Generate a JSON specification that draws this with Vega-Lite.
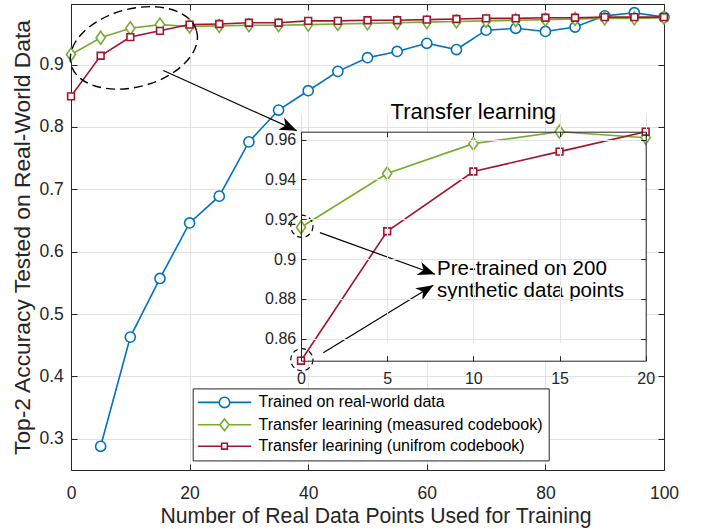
{
  "$schema": "https://vega.github.io/schema/vega-lite/v6.json",
  "width": 593,
  "height": 466,
  "autosize": {"type": "none"},
  "padding": {"left": 71, "top": 4, "right": 43, "bottom": 59},
  "background": "white",
  "config": {
    "font": "Liberation Sans",
    "view": {"stroke": null},
    "axis": {"labelFont": "Liberation Sans", "labelColor": "#262626", "domainColor": "#262626", "tickColor": "#262626", "gridColor": "#e3e3e3", "gridOpacity": 1, "labelFlush": false, "labelOverlap": false, "titleFont": "Liberation Sans", "titleColor": "#262626", "titleFontWeight": "normal", "domainWidth": 1, "tickWidth": 1, "gridWidth": 1},
    "legend": {"labelFont": "Liberation Sans"}
  },
  "datasets": {
    "acc": [
      {"series": "Trained on real-world data", "x": 5, "y": 0.288},
      {"series": "Trained on real-world data", "x": 10, "y": 0.463},
      {"series": "Trained on real-world data", "x": 15, "y": 0.557},
      {"series": "Trained on real-world data", "x": 20, "y": 0.646},
      {"series": "Trained on real-world data", "x": 25, "y": 0.689},
      {"series": "Trained on real-world data", "x": 30, "y": 0.776},
      {"series": "Trained on real-world data", "x": 35, "y": 0.827},
      {"series": "Trained on real-world data", "x": 40, "y": 0.858},
      {"series": "Trained on real-world data", "x": 45, "y": 0.889},
      {"series": "Trained on real-world data", "x": 50, "y": 0.911},
      {"series": "Trained on real-world data", "x": 55, "y": 0.921},
      {"series": "Trained on real-world data", "x": 60, "y": 0.934},
      {"series": "Trained on real-world data", "x": 65, "y": 0.924},
      {"series": "Trained on real-world data", "x": 70, "y": 0.955},
      {"series": "Trained on real-world data", "x": 75, "y": 0.958},
      {"series": "Trained on real-world data", "x": 80, "y": 0.953},
      {"series": "Trained on real-world data", "x": 85, "y": 0.960},
      {"series": "Trained on real-world data", "x": 90, "y": 0.978},
      {"series": "Trained on real-world data", "x": 95, "y": 0.983},
      {"series": "Trained on real-world data", "x": 100, "y": 0.976},
      {"series": "Transfer learining (measured codebook)", "x": 0, "y": 0.916},
      {"series": "Transfer learining (measured codebook)", "x": 5, "y": 0.943},
      {"series": "Transfer learining (measured codebook)", "x": 10, "y": 0.958},
      {"series": "Transfer learining (measured codebook)", "x": 15, "y": 0.964},
      {"series": "Transfer learining (measured codebook)", "x": 20, "y": 0.961},
      {"series": "Transfer learining (measured codebook)", "x": 25, "y": 0.962},
      {"series": "Transfer learining (measured codebook)", "x": 30, "y": 0.963},
      {"series": "Transfer learining (measured codebook)", "x": 35, "y": 0.963},
      {"series": "Transfer learining (measured codebook)", "x": 40, "y": 0.964},
      {"series": "Transfer learining (measured codebook)", "x": 45, "y": 0.965},
      {"series": "Transfer learining (measured codebook)", "x": 50, "y": 0.966},
      {"series": "Transfer learining (measured codebook)", "x": 55, "y": 0.967},
      {"series": "Transfer learining (measured codebook)", "x": 60, "y": 0.968},
      {"series": "Transfer learining (measured codebook)", "x": 65, "y": 0.969},
      {"series": "Transfer learining (measured codebook)", "x": 70, "y": 0.970},
      {"series": "Transfer learining (measured codebook)", "x": 75, "y": 0.971},
      {"series": "Transfer learining (measured codebook)", "x": 80, "y": 0.972},
      {"series": "Transfer learining (measured codebook)", "x": 85, "y": 0.973},
      {"series": "Transfer learining (measured codebook)", "x": 90, "y": 0.974},
      {"series": "Transfer learining (measured codebook)", "x": 95, "y": 0.974},
      {"series": "Transfer learining (measured codebook)", "x": 100, "y": 0.975},
      {"series": "Transfer learining (unifrom codebook)", "x": 0, "y": 0.849},
      {"series": "Transfer learining (unifrom codebook)", "x": 5, "y": 0.914},
      {"series": "Transfer learining (unifrom codebook)", "x": 10, "y": 0.944},
      {"series": "Transfer learining (unifrom codebook)", "x": 15, "y": 0.954},
      {"series": "Transfer learining (unifrom codebook)", "x": 20, "y": 0.964},
      {"series": "Transfer learining (unifrom codebook)", "x": 25, "y": 0.965},
      {"series": "Transfer learining (unifrom codebook)", "x": 30, "y": 0.967},
      {"series": "Transfer learining (unifrom codebook)", "x": 35, "y": 0.967},
      {"series": "Transfer learining (unifrom codebook)", "x": 40, "y": 0.970},
      {"series": "Transfer learining (unifrom codebook)", "x": 45, "y": 0.970},
      {"series": "Transfer learining (unifrom codebook)", "x": 50, "y": 0.971},
      {"series": "Transfer learining (unifrom codebook)", "x": 55, "y": 0.971},
      {"series": "Transfer learining (unifrom codebook)", "x": 60, "y": 0.972},
      {"series": "Transfer learining (unifrom codebook)", "x": 65, "y": 0.973},
      {"series": "Transfer learining (unifrom codebook)", "x": 70, "y": 0.974},
      {"series": "Transfer learining (unifrom codebook)", "x": 75, "y": 0.974},
      {"series": "Transfer learining (unifrom codebook)", "x": 80, "y": 0.975},
      {"series": "Transfer learining (unifrom codebook)", "x": 85, "y": 0.975},
      {"series": "Transfer learining (unifrom codebook)", "x": 90, "y": 0.976},
      {"series": "Transfer learining (unifrom codebook)", "x": 95, "y": 0.976},
      {"series": "Transfer learining (unifrom codebook)", "x": 100, "y": 0.976}
    ],
    "ellipse": [{"x": 10.6, "y": 0.9266}],
    "mainArrow": [{"x": 15.57, "y": 0.8904, "x2": 38.06, "y2": 0.794}],
    "insetCircles": [{"x": 0.05, "y": 0.9165}, {"x": 0.05, "y": 0.8495}],
    "insetArrows": [
      {"id": "a", "x": 1.10, "y": 0.9133, "x2": 7.775, "y2": 0.8924},
      {"id": "b", "x": 1.294, "y": 0.853, "x2": 7.676, "y2": 0.8869}
    ],
    "insetTitle": [{"x": 10, "y": 0.9705, "text": "Transfer learning"}],
    "preNote": [{"x": 7.89, "y": 0.8919, "text": "Pre-trained on 200\nsynthetic data points"}]
  },
  "layer": [
    {
      "layer": [
        {
          "data": {"name": "acc"},
          "transform": [{"filter": "datum.series == 'Trained on real-world data'"}],
          "mark": {"type": "line", "strokeWidth": 1.6},
          "encoding": {
            "x": {"field": "x", "type": "quantitative", "scale": {"domain": [0, 100], "nice": false, "zero": false},
              "axis": {"orient": "bottom", "values": [0, 20, 40, 60, 80, 100], "format": "d", "tickSize": -6, "labelPadding": 20, "labelFontSize": 17.5, "grid": true, "title": "Number of Real Data Points Used for Training", "titleFontSize": 21.2, "titlePadding": 4, "titleX": 304.5}},
            "y": {"field": "y", "type": "quantitative", "scale": {"domain": [0.25, 0.997], "nice": false, "zero": false},
              "axis": {"orient": "left", "values": [0.3, 0.4, 0.5, 0.6, 0.7, 0.8, 0.9], "format": "~g", "tickSize": -6, "labelPadding": 13.7, "labelFontSize": 17.5, "grid": true, "title": "Top-2 Accuracy Tested on Real-World Data", "titleFontSize": 22.8, "titlePadding": 4}},
            "stroke": {"field": "series", "type": "nominal", "scale": {"domain": ["Trained on real-world data", "Transfer learining (measured codebook)", "Transfer learining (unifrom codebook)"], "range": ["#0072BD", "#77AC30", "#A2142F"]}}
          }
        },
        {
          "data": {"name": "acc"},
          "transform": [{"filter": "datum.series == 'Trained on real-world data'"}],
          "mark": {"type": "point", "shape": "M0.78,0A0.78,0.78,0,1,1,-0.78,0A0.78,0.78,0,1,1,0.78,0Z", "filled": true, "fill": "white", "strokeWidth": 1.6, "size": 169, "opacity": 1},
          "encoding": {
            "x": {"field": "x", "type": "quantitative", "scale": {"domain": [0, 100], "nice": false, "zero": false}, "axis": null},
            "y": {"field": "y", "type": "quantitative", "scale": {"domain": [0.25, 0.997], "nice": false, "zero": false}, "axis": null},
            "stroke": {"field": "series", "type": "nominal", "scale": {"domain": ["Trained on real-world data", "Transfer learining (measured codebook)", "Transfer learining (unifrom codebook)"], "range": ["#0072BD", "#77AC30", "#A2142F"]},
              "legend": {
                "orient": "none", "legendX": 121.7, "legendY": 384.4, "title": null, "direction": "vertical",
                "strokeColor": "#262626", "fillColor": "white", "padding": 6,
                "labelFontSize": 16, "labelColor": "black", "labelLimit": 600,
                "symbolSize": 144, "symbolStrokeWidth": 1.6, "rowPadding": 3.4,
                "symbolOffset": 17.8, "labelOffset": 26,
                "symbolType": {"expr": "datum.index === 0 ? 'M-4.45,0H-0.87M0.87,0H4.45M0.87,0A0.87,0.87,0,1,1,-0.87,0A0.87,0.87,0,1,1,0.87,0Z' : datum.index === 1 ? 'M-4.45,0H-0.76M0.76,0H4.45M0,-0.98L0.76,0L0,0.98L-0.76,0Z' : 'M-4.45,0H-0.48M0.48,0H4.45M-0.48,-0.48H0.48V0.48H-0.48Z'"},
                "symbolFillColor": "white",
                "encode": {"symbols": {
                  "update": {
                    "shape": {"signal": "datum.index === 0 ? 'M-4.45,0H-0.87M0.87,0H4.45M0.87,0A0.87,0.87,0,1,1,-0.87,0A0.87,0.87,0,1,1,0.87,0Z' : datum.index === 1 ? 'M-4.45,0H-0.76M0.76,0H4.45M0,-0.98L0.76,0L0,0.98L-0.76,0Z' : 'M-4.45,0H-0.48M0.48,0H4.45M-0.48,-0.48H0.48V0.48H-0.48Z'"},
                    "fill": {"value": "white"},
                    "size": {"value": 144},
                    "strokeWidth": {"value": 1.6},
                    "opacity": {"value": 1}
                  },
                  "fill": {"value": "white"},
                  "size": {"value": 144},
                  "strokeWidth": {"value": 1.6},
                  "opacity": {"value": 1}
                }}
              }}
          }
        },
        {
          "data": {"name": "acc"},
          "transform": [{"filter": "datum.series == 'Transfer learining (measured codebook)'"}],
          "mark": {"type": "line", "strokeWidth": 1.6},
          "encoding": {
            "x": {"field": "x", "type": "quantitative", "scale": {"domain": [0, 100], "nice": false, "zero": false}, "axis": null},
            "y": {"field": "y", "type": "quantitative", "scale": {"domain": [0.25, 0.997], "nice": false, "zero": false}, "axis": null},
            "stroke": {"field": "series", "type": "nominal"}
          }
        },
        {
          "data": {"name": "acc"},
          "transform": [{"filter": "datum.series == 'Transfer learining (measured codebook)'"}],
          "mark": {"type": "point", "shape": "M0,-1L0.7,0L0,1L-0.7,0Z", "filled": true, "fill": "white", "strokeWidth": 1.6, "size": 169, "opacity": 1},
          "encoding": {
            "x": {"field": "x", "type": "quantitative", "scale": {"domain": [0, 100], "nice": false, "zero": false}, "axis": null},
            "y": {"field": "y", "type": "quantitative", "scale": {"domain": [0.25, 0.997], "nice": false, "zero": false}, "axis": null},
            "stroke": {"field": "series", "type": "nominal"}
          }
        },
        {
          "data": {"name": "acc"},
          "transform": [{"filter": "datum.series == 'Transfer learining (unifrom codebook)'"}],
          "mark": {"type": "line", "strokeWidth": 1.6},
          "encoding": {
            "x": {"field": "x", "type": "quantitative", "scale": {"domain": [0, 100], "nice": false, "zero": false}, "axis": null},
            "y": {"field": "y", "type": "quantitative", "scale": {"domain": [0.25, 0.997], "nice": false, "zero": false}, "axis": null},
            "stroke": {"field": "series", "type": "nominal"}
          }
        },
        {
          "data": {"name": "acc"},
          "transform": [{"filter": "datum.series == 'Transfer learining (unifrom codebook)'"}],
          "mark": {"type": "point", "shape": "M-0.52,-0.52H0.52V0.52H-0.52Z", "filled": true, "fill": "white", "strokeWidth": 1.6, "size": 169, "opacity": 1},
          "encoding": {
            "x": {"field": "x", "type": "quantitative", "scale": {"domain": [0, 100], "nice": false, "zero": false}, "axis": null},
            "y": {"field": "y", "type": "quantitative", "scale": {"domain": [0.25, 0.997], "nice": false, "zero": false}, "axis": null},
            "stroke": {"field": "series", "type": "nominal"}
          }
        },
        {
          "data": {"name": "ellipse"},
          "mark": {"type": "point", "shape": "M1,0A1,0.6,0,1,1,-1,0A1,0.6,0,1,1,1,0Z", "filled": false, "stroke": "black", "strokeWidth": 1.4, "strokeDash": [9, 5], "size": 16900, "angle": -15, "opacity": 1},
          "encoding": {
            "x": {"field": "x", "type": "quantitative", "scale": {"domain": [0, 100], "nice": false, "zero": false},
              "axis": {"orient": "top", "values": [0, 20, 40, 60, 80, 100], "tickSize": -6, "labels": false, "grid": false, "title": null}},
            "y": {"field": "y", "type": "quantitative", "scale": {"domain": [0.25, 0.997], "nice": false, "zero": false},
              "axis": {"orient": "right", "values": [0.3, 0.4, 0.5, 0.6, 0.7, 0.8, 0.9], "tickSize": -6, "labels": false, "grid": false, "title": null}}
          }
        },
        {
          "data": {"name": "mainArrow"},
          "mark": {"type": "rule", "color": "black", "strokeWidth": 1.2},
          "encoding": {
            "x": {"field": "x", "type": "quantitative", "scale": {"domain": [0, 100], "nice": false, "zero": false}, "axis": null},
            "y": {"field": "y", "type": "quantitative", "scale": {"domain": [0.25, 0.997], "nice": false, "zero": false}, "axis": null},
            "x2": {"field": "x2"},
            "y2": {"field": "y2"}
          }
        },
        {
          "data": {"name": "mainArrow"},
          "mark": {"type": "point", "shape": "M0,0L-1,-0.4L-0.72,0L-1,0.4Z", "filled": true, "fill": "black", "strokeWidth": 0, "size": 1156, "angle": 24.2, "opacity": 1},
          "encoding": {
            "x": {"field": "x2", "type": "quantitative", "scale": {"domain": [0, 100], "nice": false, "zero": false}, "axis": null},
            "y": {"field": "y2", "type": "quantitative", "scale": {"domain": [0.25, 0.997], "nice": false, "zero": false}, "axis": null}
          }
        }
      ]
    },
    {
      "layer": [
        {
          "data": {"values": [{}]},
          "mark": {"type": "rect", "fill": "white", "strokeWidth": 0},
          "encoding": {
            "x": {"datum": 0, "type": "quantitative", "scale": {"domain": [0, 20], "range": [230, 574.7], "nice": false, "zero": false},
              "axis": {"orient": "bottom", "offset": -109.3, "values": [0, 5, 10, 15, 20], "format": "d", "tickSize": -5, "labelPadding": 14.8, "labelFontSize": 16, "grid": true, "title": null, "zindex": 1}},
            "x2": {"datum": 20},
            "y": {"datum": 0.849, "type": "quantitative", "scale": {"domain": [0.849, 0.964], "range": [356.7, 127.7], "nice": false, "zero": false},
              "axis": {"orient": "left", "offset": -230, "values": [0.86, 0.88, 0.9, 0.92, 0.94, 0.96], "format": "~g", "tickSize": -5, "labelPadding": 10.3, "labelFontSize": 16, "grid": true, "title": null, "zindex": 1}},
            "y2": {"datum": 0.964}
          }
        },
        {
          "data": {"name": "acc"},
          "transform": [{"filter": "datum.series == 'Transfer learining (measured codebook)' && datum.x <= 20"}],
          "mark": {"type": "line", "strokeWidth": 1.6},
          "encoding": {
            "x": {"field": "x", "type": "quantitative", "scale": {"domain": [0, 20], "range": [230, 574.7], "nice": false, "zero": false}, "axis": null},
            "y": {"field": "y", "type": "quantitative", "scale": {"domain": [0.849, 0.964], "range": [356.7, 127.7], "nice": false, "zero": false}, "axis": null},
            "stroke": {"field": "series", "type": "nominal"}
          }
        },
        {
          "data": {"name": "acc"},
          "transform": [{"filter": "datum.series == 'Transfer learining (measured codebook)' && datum.x <= 20"}],
          "mark": {"type": "point", "shape": "M0,-1L0.7,0L0,1L-0.7,0Z", "filled": true, "fill": "white", "strokeWidth": 1.6, "size": 169, "opacity": 1},
          "encoding": {
            "x": {"field": "x", "type": "quantitative", "scale": {"domain": [0, 20], "range": [230, 574.7], "nice": false, "zero": false}, "axis": null},
            "y": {"field": "y", "type": "quantitative", "scale": {"domain": [0.849, 0.964], "range": [356.7, 127.7], "nice": false, "zero": false}, "axis": null},
            "stroke": {"field": "series", "type": "nominal"}
          }
        },
        {
          "data": {"name": "acc"},
          "transform": [{"filter": "datum.series == 'Transfer learining (unifrom codebook)' && datum.x <= 20"}],
          "mark": {"type": "line", "strokeWidth": 1.6},
          "encoding": {
            "x": {"field": "x", "type": "quantitative", "scale": {"domain": [0, 20], "range": [230, 574.7], "nice": false, "zero": false}, "axis": null},
            "y": {"field": "y", "type": "quantitative", "scale": {"domain": [0.849, 0.964], "range": [356.7, 127.7], "nice": false, "zero": false}, "axis": null},
            "stroke": {"field": "series", "type": "nominal"}
          }
        },
        {
          "data": {"name": "acc"},
          "transform": [{"filter": "datum.series == 'Transfer learining (unifrom codebook)' && datum.x <= 20"}],
          "mark": {"type": "point", "shape": "M-0.52,-0.52H0.52V0.52H-0.52Z", "filled": true, "fill": "white", "strokeWidth": 1.6, "size": 169, "opacity": 1},
          "encoding": {
            "x": {"field": "x", "type": "quantitative", "scale": {"domain": [0, 20], "range": [230, 574.7], "nice": false, "zero": false}, "axis": null},
            "y": {"field": "y", "type": "quantitative", "scale": {"domain": [0.849, 0.964], "range": [356.7, 127.7], "nice": false, "zero": false}, "axis": null},
            "stroke": {"field": "series", "type": "nominal"}
          }
        },
        {
          "data": {"name": "insetCircles"},
          "mark": {"type": "point", "shape": "circle", "filled": false, "stroke": "black", "strokeWidth": 1.2, "strokeDash": [5, 3.5], "size": 491, "opacity": 1},
          "encoding": {
            "x": {"field": "x", "type": "quantitative", "scale": {"domain": [0, 20], "range": [230, 574.7], "nice": false, "zero": false},
              "axis": {"orient": "top", "offset": -127.7, "values": [0, 5, 10, 15, 20], "tickSize": -5, "labels": false, "grid": false, "title": null, "zindex": 1}},
            "y": {"field": "y", "type": "quantitative", "scale": {"domain": [0.849, 0.964], "range": [356.7, 127.7], "nice": false, "zero": false},
              "axis": {"orient": "right", "offset": -18.3, "values": [0.86, 0.88, 0.9, 0.92, 0.94, 0.96], "tickSize": -5, "labels": false, "grid": false, "title": null, "zindex": 1}}
          }
        },
        {
          "data": {"name": "insetArrows"},
          "mark": {"type": "rule", "color": "black", "strokeWidth": 1.2},
          "encoding": {
            "x": {"field": "x", "type": "quantitative", "scale": {"domain": [0, 20], "range": [230, 574.7], "nice": false, "zero": false}, "axis": null},
            "y": {"field": "y", "type": "quantitative", "scale": {"domain": [0.849, 0.964], "range": [356.7, 127.7], "nice": false, "zero": false}, "axis": null},
            "x2": {"field": "x2"},
            "y2": {"field": "y2"}
          }
        },
        {
          "data": {"name": "insetArrows"},
          "transform": [{"filter": "datum.id == 'a'"}],
          "mark": {"type": "point", "shape": "M0,0L-1,-0.4L-0.72,0L-1,0.4Z", "filled": true, "fill": "black", "strokeWidth": 0, "size": 1156, "angle": 19.9, "opacity": 1},
          "encoding": {
            "x": {"field": "x2", "type": "quantitative", "scale": {"domain": [0, 20], "range": [230, 574.7], "nice": false, "zero": false}, "axis": null},
            "y": {"field": "y2", "type": "quantitative", "scale": {"domain": [0.849, 0.964], "range": [356.7, 127.7], "nice": false, "zero": false}, "axis": null}
          }
        },
        {
          "data": {"name": "insetArrows"},
          "transform": [{"filter": "datum.id == 'b'"}],
          "mark": {"type": "point", "shape": "M0,0L-1,-0.4L-0.72,0L-1,0.4Z", "filled": true, "fill": "black", "strokeWidth": 0, "size": 1156, "angle": -31.6, "opacity": 1},
          "encoding": {
            "x": {"field": "x2", "type": "quantitative", "scale": {"domain": [0, 20], "range": [230, 574.7], "nice": false, "zero": false}, "axis": null},
            "y": {"field": "y2", "type": "quantitative", "scale": {"domain": [0.849, 0.964], "range": [356.7, 127.7], "nice": false, "zero": false}, "axis": null}
          }
        },
        {
          "data": {"name": "insetTitle"},
          "mark": {"type": "text", "font": "Liberation Sans", "fontSize": 22, "align": "center", "baseline": "alphabetic", "color": "black"},
          "encoding": {
            "x": {"field": "x", "type": "quantitative", "scale": {"domain": [0, 20], "range": [230, 574.7], "nice": false, "zero": false}, "axis": null},
            "y": {"field": "y", "type": "quantitative", "scale": {"domain": [0.849, 0.964], "range": [356.7, 127.7], "nice": false, "zero": false}, "axis": null},
            "text": {"field": "text"}
          }
        },
        {
          "data": {"name": "preNote"},
          "mark": {"type": "text", "font": "Liberation Sans", "fontSize": 20.5, "align": "left", "baseline": "alphabetic", "color": "black", "lineBreak": "\n", "lineHeight": 21.7},
          "encoding": {
            "x": {"field": "x", "type": "quantitative", "scale": {"domain": [0, 20], "range": [230, 574.7], "nice": false, "zero": false}, "axis": null},
            "y": {"field": "y", "type": "quantitative", "scale": {"domain": [0.849, 0.964], "range": [356.7, 127.7], "nice": false, "zero": false}, "axis": null},
            "text": {"field": "text"}
          }
        }
      ]
    }
  ],
  "resolve": {"scale": {"x": "independent", "y": "independent"}, "axis": {"x": "independent", "y": "independent"}}
}
